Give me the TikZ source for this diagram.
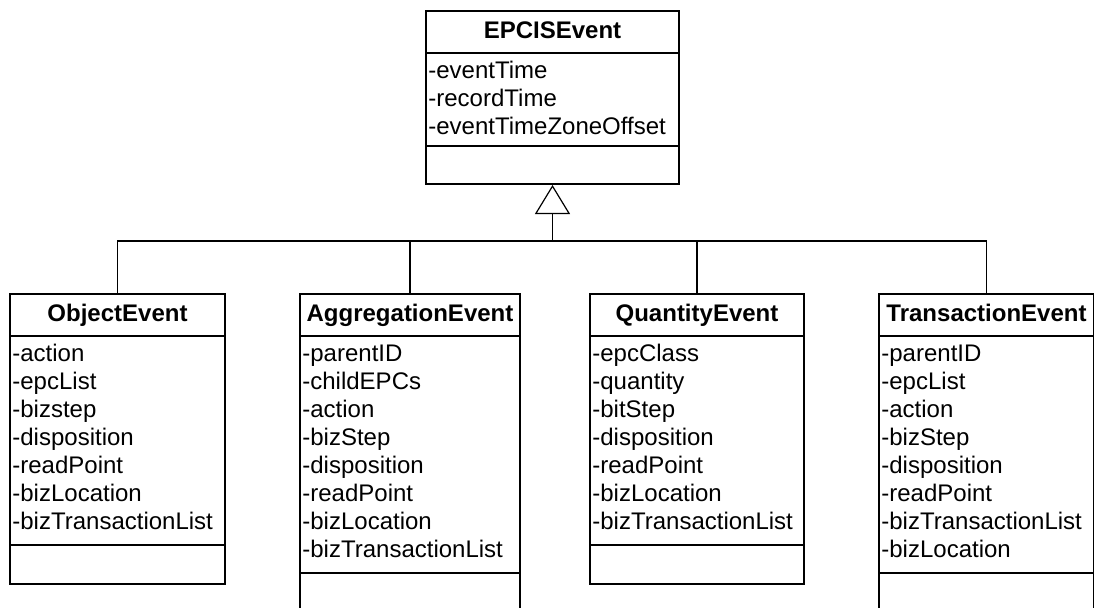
\documentclass[tikz,border=0pt]{standalone}
\usepackage{fontspec}
\setmainfont{Liberation Sans}
\usepackage{tikz}
\usetikzlibrary{calc}
\usetikzlibrary{arrows.meta}

\tikzset{
	classbox/.style={draw,line width=1pt,inner sep=0pt,anchor=north west},
	classname/.style={font=\bfseries\fontsize{12}{14}\selectfont,anchor=base,inner sep=0pt},
	attrlist/.style={font=\fontsize{12}{14}\selectfont,align=left,anchor=north west,inner xsep=1.5pt,inner ysep=2.5pt},
	sepline/.style={line width=1pt},
	link/.style={line width=0.6pt}
}
\newcommand{\firstline}{\rule{0pt}{10pt}}

\begin{document}
\begin{tikzpicture}[x=0.5pt,y=-0.5pt]
	% picture frame, one unit is one pixel of the reference
	\useasboundingbox (0,0) rectangle (1094,607);
	\clip (0,0) rectangle (1094,607);
	% the super class
	\node[classbox,minimum width=126.5pt,minimum height=86.5pt] (epcis) at (425,10) {};
	\node[classname] (epcisname) at ($(epcis.north)+(0,28.5)$) {EPCISEvent};
	\draw[sepline] ($(epcis.north west)+(0,43)$) -- ($(epcis.north east)+(0,43)$);% below the name
	\draw[sepline] ($(epcis.north west)+(0,136)$) -- ($(epcis.north east)+(0,136)$);% below the attributes
	\node[attrlist] (epcisattr) at ($(epcis.north west)+(0,43)$) {\firstline-eventTime\\-recordTime\\-eventTimeZoneOffset};
	% the four sub classes, the second and the fourth run out of the picture
	\node[classbox,minimum width=107.5pt,minimum height=145pt] (obj) at (9,293) {};
	\node[classbox,minimum width=110pt,minimum height=170pt] (agg) at (299,293) {};
	\node[classbox,minimum width=107pt,minimum height=145pt] (qty) at (589,293) {};
	\node[classbox,minimum width=107.5pt,minimum height=170pt] (trans) at (878,293) {};
	\node[classname] (objname) at ($(obj.north)+(0,28.5)$) {ObjectEvent};
	\node[classname] (aggname) at ($(agg.north)+(0,28.5)$) {AggregationEvent};
	\node[classname] (qtyname) at ($(qty.north)+(0,28.5)$) {QuantityEvent};
	\node[classname] (transname) at ($(trans.north)+(0,28.5)$) {TransactionEvent};
	\draw[sepline] ($(obj.north west)+(0,43)$) -- ($(obj.north east)+(0,43)$);
	\draw[sepline] ($(agg.north west)+(0,43)$) -- ($(agg.north east)+(0,43)$);
	\draw[sepline] ($(qty.north west)+(0,43)$) -- ($(qty.north east)+(0,43)$);
	\draw[sepline] ($(trans.north west)+(0,43)$) -- ($(trans.north east)+(0,43)$);
	\draw[sepline] ($(obj.north west)+(0,252)$) -- ($(obj.north east)+(0,252)$);
	\draw[sepline] ($(agg.north west)+(0,280)$) -- ($(agg.north east)+(0,280)$);
	\draw[sepline] ($(qty.north west)+(0,252)$) -- ($(qty.north east)+(0,252)$);
	\draw[sepline] ($(trans.north west)+(0,280)$) -- ($(trans.north east)+(0,280)$);
	\node[attrlist] (objattr) at ($(obj.north west)+(0,43)$) {\firstline-action\\-epcList\\-bizstep\\-disposition\\-readPoint\\-bizLocation\\-bizTransactionList};
	\node[attrlist] (aggattr) at ($(agg.north west)+(0,43)$) {\firstline-parentID\\-childEPCs\\-action\\-bizStep\\-disposition\\-readPoint\\-bizLocation\\-bizTransactionList};
	\node[attrlist] (qtyattr) at ($(qty.north west)+(0,43)$) {\firstline-epcClass\\-quantity\\-bitStep\\-disposition\\-readPoint\\-bizLocation\\-bizTransactionList};
	\node[attrlist] (transattr) at ($(trans.north west)+(0,43)$) {\firstline-parentID\\-epcList\\-action\\-bizStep\\-disposition\\-readPoint\\-bizTransactionList\\-bizLocation};
	% generalization
	\coordinate (bar) at ($(epcis.south)+(0,56)$);
	\draw[link] (obj.north) |- (bar) -| (trans.north);% the long bar
	\draw[link] (agg.north) -- (agg.north |- bar);
	\draw[link] (qty.north) -- (qty.north |- bar);
	\draw[link,-{Triangle[open,length=14.5pt,width=17.5pt]}] (bar) -- (epcis.south);
\end{tikzpicture}
\end{document}
